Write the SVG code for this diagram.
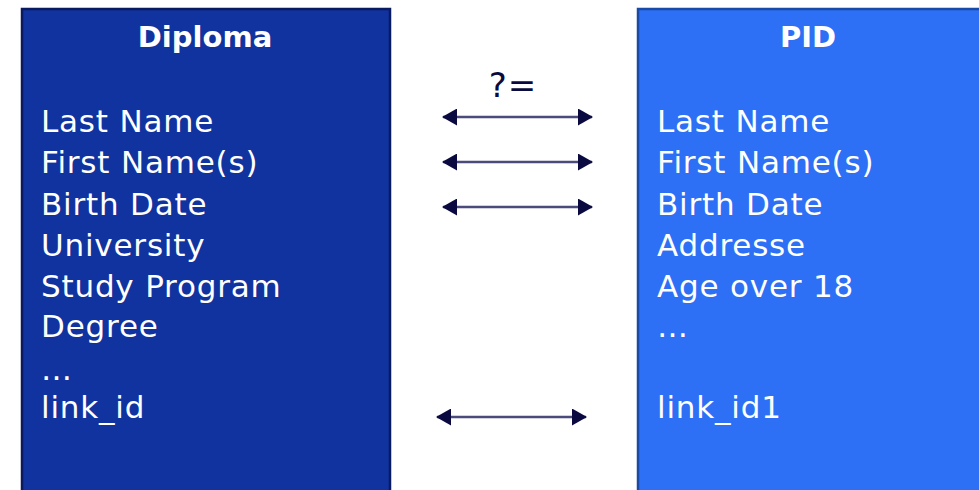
<svg xmlns="http://www.w3.org/2000/svg" width="979" height="490" viewBox="0 0 979 490">
<style>
.title{font-family:"DejaVu Sans",Verdana,sans-serif;font-weight:bold;font-size:29px;fill:#ffffff;text-anchor:middle}
.item{font-family:"DejaVu Sans",Verdana,sans-serif;font-size:31px;letter-spacing:0.8px;fill:#ffffff}
.conn{stroke:#4a4a7c;stroke-width:2.5;fill:none;marker-start:url(#ah);marker-end:url(#ah)}
.lbl{font-family:"DejaVu Sans",Verdana,sans-serif;font-size:34px;letter-spacing:1px;fill:#0a0a40;text-anchor:middle}
</style>
<defs>
<marker id="ah" viewBox="0 0 15 17" refX="14" refY="8.5" markerWidth="15" markerHeight="17" markerUnits="userSpaceOnUse" orient="auto-start-reverse">
<path d="M0,0 L15,8.5 L0,17 Z" fill="#0a0a40"/>
</marker>
</defs>
<rect width="979" height="490" fill="#ffffff"/>
<g id="diploma">
<rect x="22" y="9" width="368" height="490" fill="#1033a0" stroke="#0a1a5e" stroke-width="2.5"/>
<text class="title" x="205" y="47">Diploma</text>
<text class="item" x="41" y="132">Last Name</text>
<text class="item" x="41" y="173">First Name(s)</text>
<text class="item" x="41" y="215">Birth Date</text>
<text class="item" x="41" y="256">University</text>
<text class="item" x="41" y="297">Study Program</text>
<text class="item" x="41" y="337">Degree</text>
<text class="item" x="41" y="380">…</text>
<text class="item" x="41" y="418">link_id</text>
</g>
<g id="pid">
<rect x="638" y="9" width="360" height="490" fill="#2d6ff5" stroke="#1a4aa8" stroke-width="2.5"/>
<text class="title" x="808" y="47">PID</text>
<text class="item" x="657" y="132">Last Name</text>
<text class="item" x="657" y="173">First Name(s)</text>
<text class="item" x="657" y="215">Birth Date</text>
<text class="item" x="657" y="256">Addresse</text>
<text class="item" x="657" y="297">Age over 18</text>
<text class="item" x="657" y="337">…</text>
<text class="item" x="657" y="418">link_id1</text>
</g>
<g id="connectors">
<text class="lbl" x="513" y="97">?=</text>
<line class="conn" x1="443" y1="117" x2="592" y2="117"/>
<line class="conn" x1="443" y1="162" x2="592" y2="162"/>
<line class="conn" x1="443" y1="207" x2="592" y2="207"/>
<line class="conn" x1="437" y1="417" x2="586" y2="417"/>
</g>
</svg>
